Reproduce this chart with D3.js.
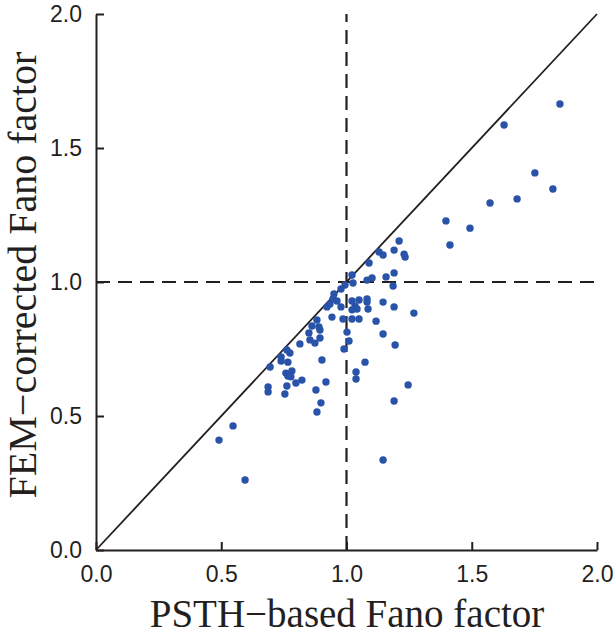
<!DOCTYPE html>
<html>
<head>
<meta charset="utf-8">
<script src="https://cdn.jsdelivr.net/npm/d3@7"></script>
<style>
  body { margin: 0; background: #fff; }
  .axis text { font-family: "Liberation Sans", Arial, sans-serif; font-size: 23px; fill: #231f20; }
  .axis path, .axis line { stroke: #231f20; stroke-width: 2; }
  .title { font-family: "Liberation Serif", "Times New Roman", serif; fill: #231f20; }
</style>
</head>
<body>
<div id="chart"></div>
<script>
// data
var psth = [0.491, 0.547, 0.595, 0.687, 0.687, 0.695, 0.739, 0.739, 0.762, 0.774,
            0.766, 0.758, 0.766, 0.778, 0.782, 0.754, 0.762, 0.798, 0.822, 0.814,
            0.850, 0.854, 0.874, 0.894, 0.894, 0.862, 0.890, 0.882, 0.902, 0.878,
            0.898, 0.882, 0.918, 0.922, 0.934, 0.946, 0.962, 0.950, 0.978, 0.994,
            0.978, 0.942, 0.986, 1.002, 1.010, 0.990, 1.022, 1.026, 1.022, 1.022,
            1.022, 1.034, 1.042, 1.050, 1.050, 1.074, 1.038, 1.038, 1.082, 1.102,
            1.090, 1.082, 1.082, 1.086, 1.118, 1.130, 1.146, 1.146, 1.146, 1.158,
            1.190, 1.190, 1.186, 1.190, 1.194, 1.190, 1.210, 1.230, 1.234, 1.269,
            1.246, 1.146, 1.852, 1.629, 1.752, 1.824, 1.681, 1.573, 1.493, 1.397,
            1.413];
var fem  = [0.410, 0.463, 0.261, 0.608, 0.590, 0.683, 0.720, 0.705, 0.746, 0.735,
            0.701, 0.660, 0.649, 0.646, 0.668, 0.582, 0.612, 0.623, 0.634, 0.769,
            0.810, 0.784, 0.772, 0.791, 0.821, 0.836, 0.832, 0.858, 0.709, 0.597,
            0.549, 0.515, 0.627, 0.907, 0.918, 0.937, 0.929, 0.955, 0.974, 0.989,
            0.907, 0.869, 0.862, 0.813, 0.780, 0.750, 1.026, 0.996, 0.929, 0.896,
            0.862, 0.910, 0.899, 0.933, 0.862, 0.701, 0.664, 0.638, 1.007, 1.015,
            1.071, 0.937, 0.925, 0.899, 0.854, 1.112, 1.101, 0.925, 0.806, 1.019,
            1.119, 1.034, 0.985, 0.907, 0.765, 0.556, 1.153, 1.104, 1.093, 0.884,
            0.616, 0.336, 1.664, 1.586, 1.407, 1.347, 1.310, 1.295, 1.201, 1.228,
            1.138];
var tickVals = [0, 0.5, 1.0, 1.5, 2.0];

var margin = {top: 14, right: 18, bottom: 89, left: 96},
    width = 615 - margin.left - margin.right,
    height = 639 - margin.top - margin.bottom;

var x = d3.scaleLinear().domain([0, 2]).range([0, width]);
var y = d3.scaleLinear().domain([0, 2]).range([height, 0]);

var svg = d3.select("#chart").append("svg")
    .attr("width", 615)
    .attr("height", 639)
  .append("g")
    .attr("transform", "translate(" + margin.left + "," + margin.top + ")");

// identity line
svg.append("line")
    .attr("x1", x(0)).attr("y1", y(0))
    .attr("x2", x(2)).attr("y2", y(2))
    .attr("stroke", "#231f20")
    .attr("stroke-width", 1.8);

// dashed reference lines at 1.0
svg.append("line")
    .attr("x1", x(1)).attr("y1", y(0))
    .attr("x2", x(1)).attr("y2", y(2))
    .attr("stroke", "#231f20")
    .attr("stroke-width", 2.2)
    .attr("stroke-dasharray", "14,8");
svg.append("line")
    .attr("x1", x(0)).attr("y1", y(1))
    .attr("x2", x(2)).attr("y2", y(1))
    .attr("stroke", "#231f20")
    .attr("stroke-width", 2.2)
    .attr("stroke-dasharray", "14,8");

// points
var pts = psth.map(function(d, i) { return {x: d, y: fem[i]}; });
svg.selectAll(".dot")
    .data(pts)
  .enter().append("circle")
    .attr("class", "dot")
    .attr("cx", function(d) { return x(d.x); })
    .attr("cy", function(d) { return y(d.y); })
    .attr("r", 3.7)
    .style("fill", "#2853a8");

// axes
svg.append("g")
    .attr("class", "axis")
    .attr("transform", "translate(0," + height + ")")
    .call(d3.axisBottom(x).tickValues(tickVals).tickFormat(d3.format(".1f"))
      .tickSizeInner(-8).tickSizeOuter(0).tickPadding(16));

svg.append("g")
    .attr("class", "axis")
    .call(d3.axisLeft(y).tickValues(tickVals).tickFormat(d3.format(".1f"))
      .tickSizeInner(-8).tickSizeOuter(0).tickPadding(14));

// axis titles
svg.append("text")
    .attr("class", "title")
    .attr("x", 251)
    .attr("y", 613)
    .attr("text-anchor", "middle")
    .style("font-size", "39px")
    .text("PSTH\u2212based Fano factor");

svg.append("text")
    .attr("class", "title")
    .attr("transform", "translate(-60," + 261 + ") rotate(-90)")
    .attr("text-anchor", "middle")
    .style("font-size", "40px")
    .text("FEM\u2212corrected Fano factor");
</script>
</body>
</html>
